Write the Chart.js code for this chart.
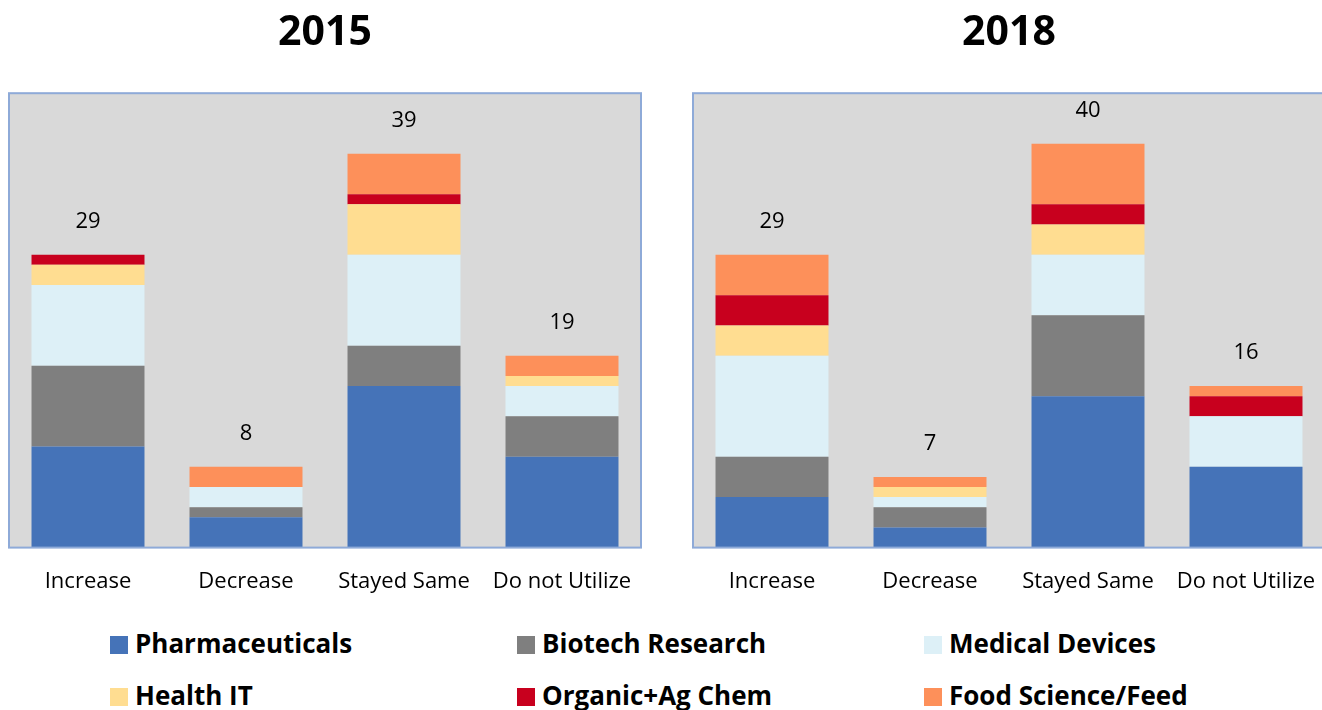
<!DOCTYPE html>
<html>
<head>
<meta charset="utf-8">
<script src="https://cdn.jsdelivr.net/npm/chart.js@4.4.1/dist/chart.umd.min.js"></script>
<style>
  html, body { margin: 0; padding: 0; background: #fff; overflow: hidden; width: 1322px; height: 710px; }
  .box { position: absolute; top: 0; width: 660px; height: 616px; }
  .leg { position: absolute; font-family: "Open Sans", sans-serif; font-weight: bold; font-size: 26px; color: #000; white-space: nowrap; line-height: 30px; }
  .leg span { display: inline-block; width: 18px; height: 18px; margin-right: 7px; vertical-align: -1px; }
</style>
</head>
<body>
<div class="box" style="left:0"><canvas id="chart2015"></canvas></div>
<div class="box" style="left:684px"><canvas id="chart2018"></canvas></div>
<div id="legend"></div>
<script>
var categories = ["Increase", "Decrease", "Stayed Same", "Do not Utilize"];
var seriesNames = ["Pharmaceuticals", "Biotech Research", "Medical Devices", "Health IT", "Organic+Ag Chem", "Food Science/Feed"];
var seriesColors = ["#4573b8", "#7f7f7f", "#ddf0f7", "#ffdd91", "#c8001e", "#fd905a"];

// 2015
var pharma2015 = [10, 3, 16, 9];
var biotech2015 = [8, 1, 4, 4];
var medical2015 = [8, 2, 9, 3];
var healthIT2015 = [2, 0, 5, 1];
var organic2015 = [1, 0, 1, 0];
var food2015 = [0, 2, 4, 2];

// 2018
var pharma2018 = [5, 2, 15, 8];
var biotech2018 = [4, 2, 8, 0];
var medical2018 = [10, 1, 6, 5];
var healthIT2018 = [3, 1, 3, 0];
var organic2018 = [3, 0, 2, 2];
var food2018 = [4, 1, 6, 1];

var plotBackground = {
    id: "plotBackground",
    beforeDraw: function (chart) {
        var a = chart.chartArea, ctx = chart.ctx;
        ctx.save();
        ctx.fillStyle = "#d9d9d9";
        ctx.fillRect(a.left, a.top, a.right - a.left, a.bottom - a.top);
        ctx.restore();
    },
    afterDraw: function (chart) {
        var a = chart.chartArea, ctx = chart.ctx;
        ctx.save();
        ctx.strokeStyle = "#8eaad8";
        ctx.lineWidth = 2;
        ctx.strokeRect(a.left, a.top, a.right - a.left, a.bottom - a.top);
        ctx.restore();
    }
};

var totalLabels = {
    id: "totalLabels",
    afterDatasetsDraw: function (chart) {
        var ctx = chart.ctx;
        var xScale = chart.scales.x, yScale = chart.scales.y;
        ctx.save();
        ctx.font = "22px 'Open Sans', sans-serif";
        ctx.fillStyle = "#000";
        ctx.textAlign = "center";
        ctx.textBaseline = "middle";
        chart.data.labels.forEach(function (lab, i) {
            var total = 0;
            chart.data.datasets.forEach(function (ds) { total += ds.data[i]; });
            ctx.fillText(String(total), xScale.getPixelForValue(i), yScale.getPixelForValue(total) - 33);
        });
        ctx.restore();
    }
};

function makeChart(id, title, seriesData) {
    var datasets = seriesData.map(function (d, k) {
        return {
            label: seriesNames[k],
            data: d,
            backgroundColor: seriesColors[k],
            borderWidth: 0,
            categoryPercentage: 1,
            barPercentage: 0.715
        };
    });
    return new Chart(document.getElementById(id), {
        type: "bar",
        data: { labels: categories, datasets: datasets },
        options: {
            responsive: true,
            maintainAspectRatio: false,
            animation: false,
            layout: { padding: { left: 9, right: 19, top: 0, bottom: 0 } },
            plugins: {
                legend: { display: false },
                tooltip: { enabled: false },
                title: {
                    display: true,
                    text: title,
                    color: "#000",
                    font: { family: "'Open Sans', sans-serif", size: 41, weight: "bold", lineHeight: 1.2 },
                    padding: { top: 9, bottom: 35 }
                }
            },
            scales: {
                x: {
                    stacked: true,
                    grid: { display: false, drawTicks: false },
                    border: { display: false },
                    ticks: { color: "#000", padding: 21, font: { family: "'Open Sans', sans-serif", size: 22 } }
                },
                y: {
                    stacked: true,
                    display: false,
                    min: 0,
                    max: 45
                }
            }
        },
        plugins: [plotBackground, totalLabels]
    });
}

makeChart("chart2015", "2015", [pharma2015, biotech2015, medical2015, healthIT2015, organic2015, food2015]);
makeChart("chart2018", "2018", [pharma2018, biotech2018, medical2018, healthIT2018, organic2018, food2018]);

// legend built from the series names and colours
var legendX = [110, 517, 924];
var legendY = [628, 680];
var legend = document.getElementById("legend");
seriesNames.forEach(function (name, k) {
    var div = document.createElement("div");
    div.className = "leg";
    div.style.left = legendX[k % 3] + "px";
    div.style.top = legendY[Math.floor(k / 3)] + "px";
    div.innerHTML = '<span style="background:' + seriesColors[k] + '"></span>' + name;
    legend.appendChild(div);
});
</script>
</body>
</html>
